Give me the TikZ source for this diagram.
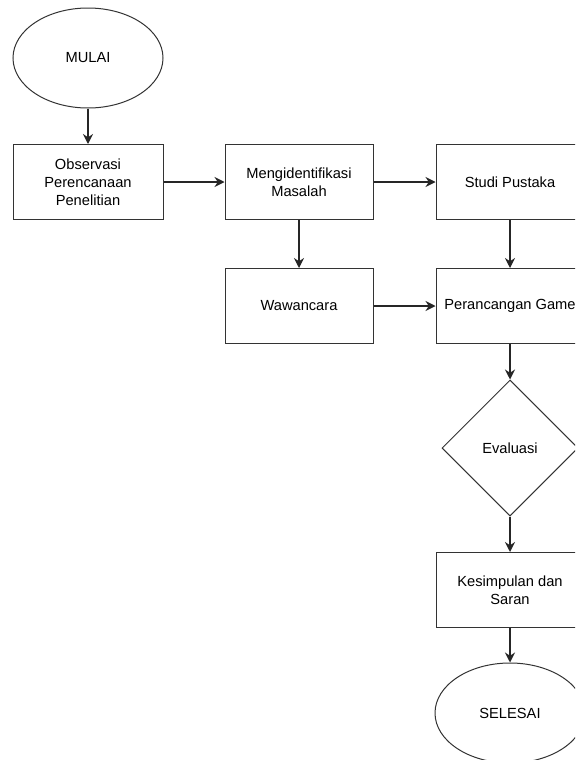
\documentclass[tikz,border=0pt]{standalone}
\usepackage{fontspec}
\setmainfont{Liberation Sans}
\usetikzlibrary{shapes.geometric,arrows.meta}

\begin{document}
\begin{tikzpicture}[x=0.75pt, y=-0.75pt,
    kotak/.style={draw=black!80, line width=0.75pt, minimum width=111pt, minimum height=56.25pt,
        inner sep=2pt, align=center, font=\fontsize{11}{13.5}\selectfont},
    bulat/.style={ellipse, draw=black!80, line width=0.75pt, minimum width=112.5pt, minimum height=75pt,
        inner sep=0pt, font=\fontsize{11}{13.5}\selectfont},
    keputusan/.style={diamond, draw=black!80, line width=0.75pt, minimum width=102pt, minimum height=102pt,
        inner sep=0pt, aspect=1, font=\fontsize{11}{13.5}\selectfont},
    panah/.style={-{Stealth[length=7.5pt, width=7.5pt, inset=2.5pt]}, line width=0.8pt, black!85},
    panahtebal/.style={panah, line width=1.2pt}]

    % batas gambar
    \useasboundingbox (0,0) rectangle (575,760);
    \clip (0,0) rectangle (575,760);

    % kolom kiri
    \node[bulat] (mulai) at (88,58) {MULAI};
    \node[kotak, minimum width=112.5pt] (observasi) at (88,182) {Observasi\\Perencanaan\\Penelitian};

    % kolom tengah
    \node[kotak] (identifikasi) at (299,182) {Mengidentifikasi\\Masalah};
    \node[kotak] (wawancara) at (299,306) {Wawancara};

    % kolom kanan
    \node[kotak] (pustaka) at (510,182) {Studi Pustaka};
    \node[kotak] (rancang) at (510,306) {Perancangan Game};
    \node[keputusan] (evaluasi) at (510,448) {Evaluasi};
    \node[kotak] (simpulan) at (510,590) {Kesimpulan dan\\Saran};
    \node[bulat] (selesai) at (510,713) {SELESAI};

    % alur
    \draw[panahtebal] (mulai) -- (observasi);
    \draw[panah] (observasi) -- (identifikasi);
    \draw[panah] (identifikasi) -- (pustaka);
    \draw[panah] (identifikasi) -- (wawancara);
    \draw[panah] (pustaka) -- (rancang);
    \draw[panah] (wawancara) -- (rancang);
    \draw[panahtebal] (rancang) -- (evaluasi);
    \draw[panahtebal] (evaluasi) -- (simpulan);
    \draw[panahtebal] (simpulan) -- (selesai);
\end{tikzpicture}
\end{document}
